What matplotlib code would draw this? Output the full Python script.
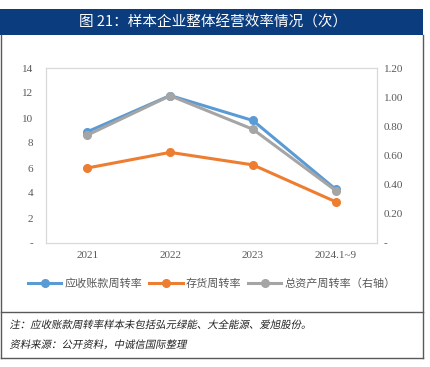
import numpy as np
import matplotlib.pyplot as plt
from matplotlib.lines import Line2D
from matplotlib.patches import Rectangle
from matplotlib.patheffects import AbstractPathEffect
from matplotlib.transforms import Affine2D

plt.rcParams['font.family'] = ['Liberation Serif', 'Noto Sans CJK SC', 'DejaVu Sans']

# data
years = ['2021', '2022', '2023', '2024.1~9']
receivable_turnover = [8.9, 11.8, 9.8, 4.3]   # left axis
inventory_turnover = [6.0, 7.25, 6.25, 3.3]   # left axis
asset_turnover = [0.74, 1.01, 0.78, 0.36]     # right axis

title = '图 21：样本企业整体经营效率情况（次）'
note = '注：应收账款周转率样本未包括弘元绿能、大全能源、爱旭股份。'
source = '资料来源：公开资料，中诚信国际整理'

W, H = 430, 367
fig = plt.figure(figsize=(W / 100, H / 100), dpi=100)


def fx(px):
    return px / W


def fy(py):
    return 1 - py / H


class Slant(AbstractPathEffect):
    """fake italic for CJK text (no italic face installed)"""

    def __init__(self, y0, deg=12):
        super().__init__()
        self.y0 = y0
        self.deg = deg

    def draw_path(self, renderer, gc, tpath, affine, rgbFace=None):
        sk = Affine2D().translate(0, -self.y0).skew_deg(self.deg, 0).translate(0, self.y0)
        renderer.draw_path(gc, tpath, affine + sk, rgbFace)


# title bar
fig.patches.append(Rectangle((0, fy(35)), fx(423), (35 - 9) / H, transform=fig.transFigure,
                             facecolor='#0B3C7D', edgecolor='none'))
fig.text(fx(213), fy(22), title, color='white', fontsize=10.5, ha='center', va='center',
         family=['Noto Sans CJK SC', 'DejaVu Sans'])

# frame
frame_col = '#595959'
for x in (1, 423):
    fig.add_artist(Line2D([fx(x), fx(x)], [fy(35), fy(358)], transform=fig.transFigure, color=frame_col, lw=1))
for y in (312, 358):
    fig.add_artist(Line2D([fx(1), fx(423)], [fy(y), fy(y)], transform=fig.transFigure, color=frame_col, lw=1))

ax = fig.add_axes([fx(46), fy(243), fx(377 - 46), (243 - 68) / H])
ax2 = ax.twinx()
x = np.arange(len(years))

colors = ['#5B9BD5', '#ED7D31', '#A5A5A5']
l1, = ax.plot(x, receivable_turnover, color=colors[0], lw=2.2, marker='o', ms=5.5, label='应收账款周转率', zorder=3)
l2, = ax.plot(x, inventory_turnover, color=colors[1], lw=2.2, marker='o', ms=5.5, label='存货周转率', zorder=3)
l3, = ax2.plot(x, asset_turnover, color=colors[2], lw=2.2, marker='o', ms=5.5, label='总资产周转率（右轴）')

ax.set_xlim(-0.5, 3.5)
ax.set_ylim(0, 14)
ax2.set_ylim(0, 1.2)
ax.set_yticks(np.arange(0, 15, 2))
ax.set_yticklabels(['-'] + [str(v) for v in range(2, 15, 2)])
ax2.set_yticks(np.arange(0, 1.21, 0.2))
ax2.set_yticklabels(['-'] + ['%.2f' % v for v in np.arange(0.2, 1.21, 0.2)])
ax.set_xticks(x)
ax.set_xticklabels(years)

tick_col = '#595959'
for a in (ax, ax2):
    for s in a.spines.values():
        s.set_color('#D9D9D9')
    a.tick_params(length=0, labelsize=8, colors=tick_col)
ax.tick_params(axis='y', pad=9)
ax.tick_params(axis='x', pad=6)
ax2.tick_params(axis='y', pad=5)

leg = fig.legend(handles=[l1, l2, l3], loc='center', bbox_to_anchor=(fx(212), fy(284)), ncol=3,
                 frameon=False, handlelength=3, columnspacing=0.6, handletextpad=0.3,
                 prop={'family': ['Noto Sans CJK SC', 'DejaVu Sans'], 'size': 8})
for t in leg.get_texts():
    t.set_color(tick_col)

for txt, ypx in ((note, 325), (source, 345)):
    fig.text(fx(10), fy(ypx), txt, fontsize=7.5, ha='left', va='center', color='#222222',
             family=['Noto Sans CJK SC', 'DejaVu Sans'],
             path_effects=[Slant(fy(ypx) * H)])

fig.savefig('out.png', dpi=100)
